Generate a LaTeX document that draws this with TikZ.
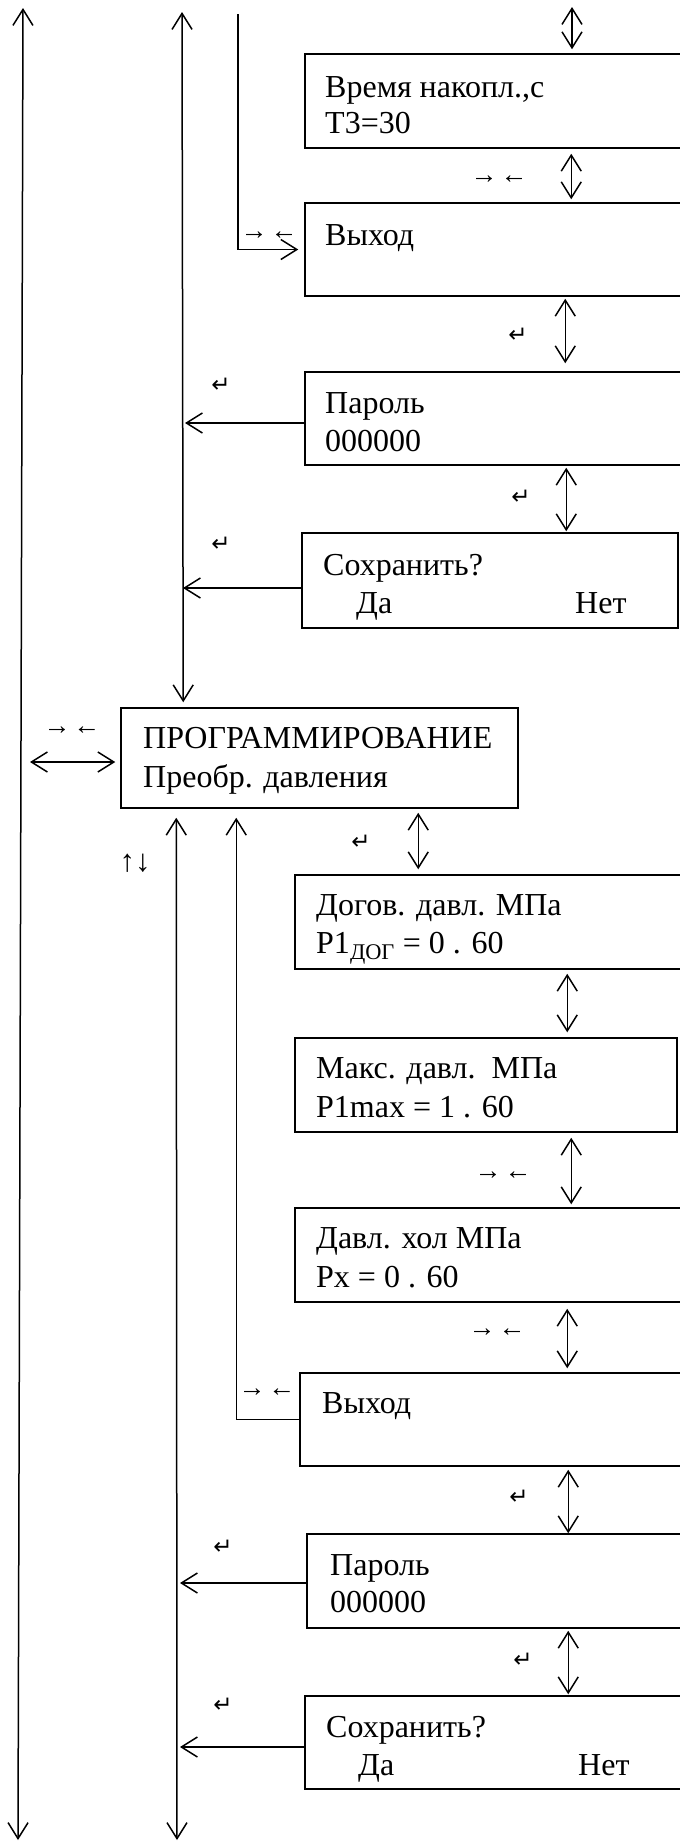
\documentclass[tikz,border=0pt]{standalone}
\usepackage{fontspec}
\setmainfont{Liberation Serif}
\newfontfamily\symfont{DejaVu Sans}
\usetikzlibrary{arrows.meta,fit}
\newcommand{\mylr}{→\kern3pt←}
\begin{document}
\begin{tikzpicture}[x=1pt,y=-1pt,
  box/.style={draw,line width=1.5pt,inner sep=0pt,rectangle},
  txt/.style={anchor=base west,inner sep=0pt,font=\fontsize{32}{36}\selectfont},
  lbl/.style={inner sep=0pt,font=\fontsize{27}{30}\selectfont},
  sym/.style={inner sep=0pt,font=\symfont\fontsize{23}{26}\selectfont},
  con/.style={line width=1.5pt},
  dbl/.style={con,{Straight Barb[length=16pt,width=20pt]}-{Straight Barb[length=16pt,width=20pt]}},
  one/.style={con,-{Straight Barb[length=16pt,width=20pt]}}]
\useasboundingbox (0,0) rectangle (680,1842);

% boxes
\node[box,fit={(305,54) (700,148)}] (b1) {};
\node[box,fit={(305,203) (700,296)}] (b2) {};
\node[box,fit={(305,372) (700,465)}] (b3) {};
\node[box,fit={(302,533) (678,628)}] (b4) {};
\node[box,fit={(121,708) (518,808)}] (b5) {};
\node[box,fit={(295,875) (700,969)}] (b6) {};
\node[box,fit={(295,1038) (677,1132)}] (b7) {};
\node[box,fit={(295,1208) (700,1302)}] (b8) {};
\node[box,fit={(300,1373) (700,1466)}] (b9) {};
\node[box,fit={(307,1534) (700,1628)}] (b10) {};
\node[box,fit={(305,1696) (700,1789)}] (b11) {};

% texts
\node[txt] (t1a) at (325,97) {Время накопл.,с};
\node[txt] (t1b) at (325,133) {Т3=30};
\node[txt] (t2a) at (325,245) {Выход};
\node[txt] (t3a) at (325,413) {Пароль};
\node[txt] (t3b) at (325,451) {000000};
\node[txt] (t4a) at (323,575) {Сохранить?};
\node[txt] (t4b) at (356,613) {Да};
\node[txt] (t4c) at (575,613) {Нет};
\node[txt] (t5a) at (143,748) {ПРОГРАММИРОВАНИЕ};
\node[txt] (t5b) at (143,787) {Преобр. давления};
\node[txt] (t6a) at (316,915) {Догов. давл. МПа};
\node[txt] (t6b) at (316,953) {P1\textsubscript{ДОГ} = 0 . 60};
\node[txt] (t7a) at (316,1078) {Макс. давл.\ \ МПа};
\node[txt] (t7b) at (316,1117) {P1max = 1 . 60};
\node[txt] (t8a) at (316,1248) {Давл. хол МПа};
\node[txt] (t8b) at (316,1287) {Px = 0 . 60};
\node[txt] (t9a) at (322,1413) {Выход};
\node[txt] (t10a) at (330,1575) {Пароль};
\node[txt] (t10b) at (330,1612) {000000};
\node[txt] (t11a) at (326,1737) {Сохранить?};
\node[txt] (t11b) at (358,1775) {Да};
\node[txt] (t11c) at (578,1775) {Нет};

% small labels
\node[lbl] (l1) at (269,236) {\mylr};
\node[lbl] (l2) at (499,180) {\mylr};
\node[sym] (l3) at (518,335) {↵};
\node[sym] (l4) at (221,385) {↵};
\node[sym] (l5) at (521,497) {↵};
\node[sym] (l6) at (221,544) {↵};
\node[lbl] (l7) at (72,731) {\mylr};
\node[lbl,font=\fontsize{31}{34}\selectfont] (l8) at (135,863) {↑↓};
\node[sym] (l9) at (361,842) {↵};
\node[lbl] (l10) at (503,1176) {\mylr};
\node[lbl] (l11) at (497,1333) {\mylr};
\node[lbl] (l12) at (267,1393) {\mylr};
\node[sym] (l13) at (519,1497) {↵};
\node[sym] (l14) at (223,1547) {↵};
\node[sym] (l15) at (523,1660) {↵};
\node[sym] (l16) at (223,1705) {↵};

% free ends
\coordinate (L1t) at (23,8);
\coordinate (L1b) at (18,1840);
\coordinate (L2t) at (182,12);
\coordinate (L2b) at (177,1840);
\coordinate (L3t) at (238,14);
\coordinate (top1) at (572,7);

% long lines
\draw[dbl] (L1t) -- (L1b);
\draw[dbl,shorten >=5pt] (L2t) -- ([xshift=63pt]b5.north west);
\draw[dbl,shorten >=9pt] (L2b) -- ([xshift=56pt]b5.south west);
\draw[one,shorten >=6pt] (L3t) |- (b2.west);
\draw[one,shorten >=9pt] (b9.west) -| ([xshift=116pt]b5.south west);

% vertical chain arrows
\draw[dbl,shorten >=4pt] (top1) -- (top1 |- b1.north);
\draw[dbl,shorten <=5pt,shorten >=3pt] ([xshift=267pt]b1.south west) -- ([xshift=267pt]b2.north west);
\draw[dbl,shorten <=2pt,shorten >=8pt] ([xshift=261pt]b2.south west) -- ([xshift=261pt]b3.north west);
\draw[dbl,shorten <=2pt,shorten >=1pt] ([xshift=262pt]b3.south west) -- ([xshift=265pt]b4.north west);
\draw[dbl,shorten <=4pt,shorten >=5pt] ([xshift=298pt]b5.south west) -- ([xshift=124pt]b6.north west);
\draw[dbl,shorten <=4pt,shorten >=5pt] ([xshift=273pt]b6.south west) -- ([xshift=273pt]b7.north west);
\draw[dbl,shorten <=5pt,shorten >=3pt] ([xshift=277pt]b7.south west) -- ([xshift=277pt]b8.north west);
\draw[dbl,shorten <=6pt,shorten >=4pt] ([xshift=273pt]b8.south west) -- ([xshift=268pt]b9.north west);
\draw[dbl,shorten <=3pt,shorten >=0pt] ([xshift=269pt]b9.south west) -- ([xshift=262pt]b10.north west);
\draw[dbl,shorten <=2pt,shorten >=1pt] ([xshift=262pt]b10.south west) -- ([xshift=264pt]b11.north west);

% arrows to the left lines
\draw[one,shorten >=3pt] ([yshift=-4.5pt]b3.west) -- ([yshift=-4.5pt]b3.west -| L2t);
\draw[one,shorten >=1pt] ([yshift=-7.5pt]b4.west) -- ([yshift=-7.5pt]b4.west -| L2t);
\draw[one,shorten >=3pt] ([yshift=-2pt]b10.west) -- ([yshift=-2pt]b10.west -| L2b);
\draw[one,shorten >=3pt] ([yshift=-4.5pt]b11.west) -- ([yshift=-4.5pt]b11.west -| L2b);
\draw[dbl,shorten <=5pt,shorten >=7pt] ([yshift=-4pt]b5.west) -- ([yshift=-4pt]b5.west -| L1t);
\end{tikzpicture}
\end{document}
